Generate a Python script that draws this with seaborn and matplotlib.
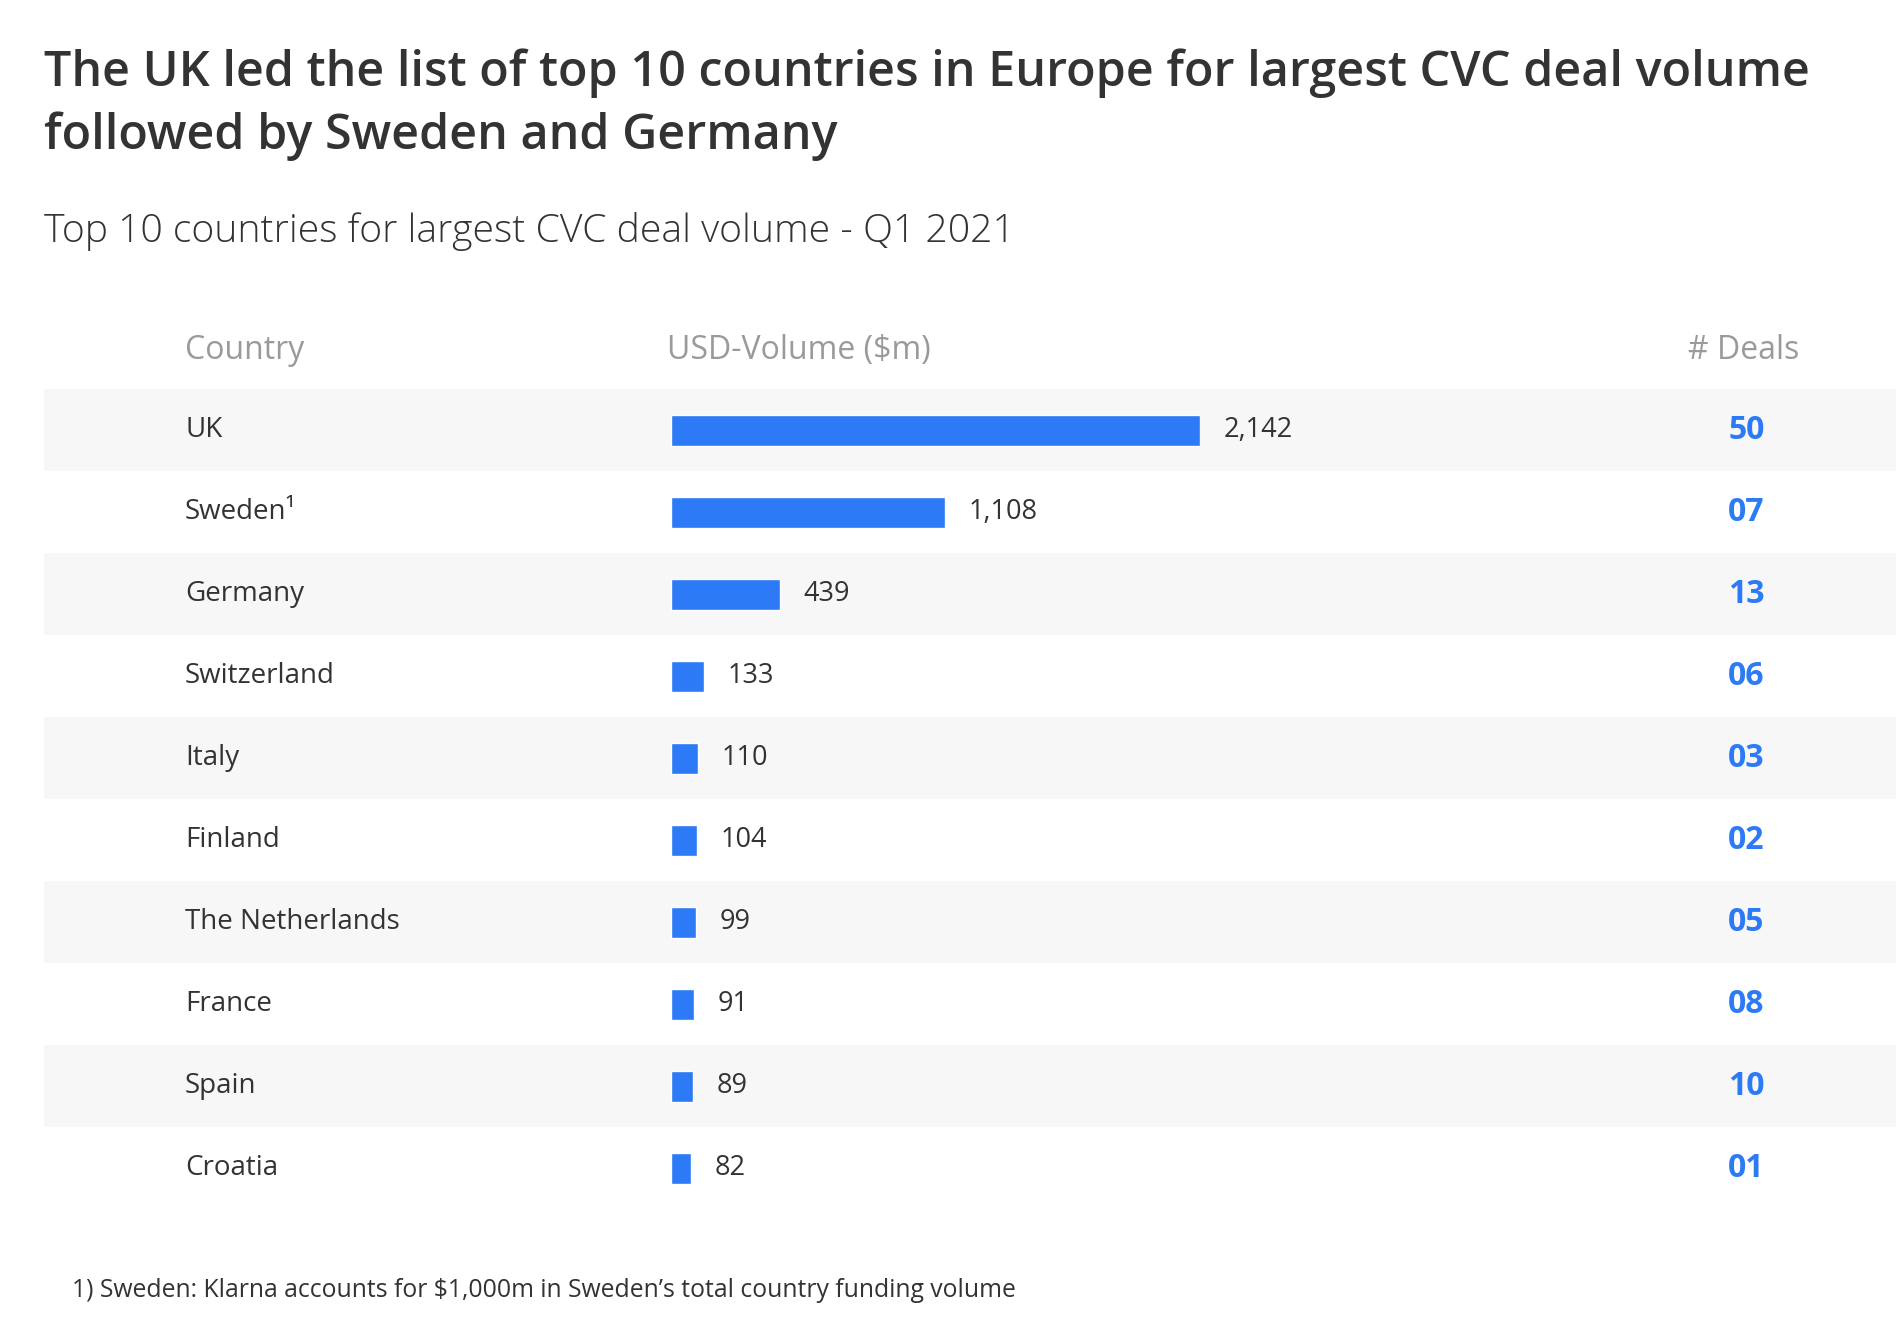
import matplotlib
matplotlib.use("Agg")
import matplotlib.pyplot as plt
import matplotlib.transforms as mtransforms
import seaborn as sns
import pandas as pd

# ---- data ----
countries = ["UK", "Sweden\u00b9", "Germany", "Switzerland", "Italy", "Finland",
             "The Netherlands", "France", "Spain", "Croatia"]
volume_musd = [2142, 1108, 439, 133, 110, 104, 99, 91, 89, 82]
deals = [50, 7, 13, 6, 3, 2, 5, 8, 10, 1]

title_lines = ["The UK led the list of top 10 countries in Europe for largest CVC deal volume",
               "followed by Sweden and Germany"]
subtitle = "Top 10 countries for largest CVC deal volume - Q1 2021"
headers = ["Country", "USD-Volume ($m)", "# Deals"]
footnote = "1) Sweden: Klarna accounts for $1,000m in Sweden\u2019s total country funding volume"

df = pd.DataFrame({"country": countries, "volume": volume_musd, "deals": deals})

# ---- style ----
sns.set_style("white")
plt.rcParams["font.family"] = ["Open Sans", "DejaVu Sans"]

BLUE = "#2C7AF6"
DARK = "#333333"
GREY = "#9A9A9A"
BAND = "#F7F7F7"

fig = plt.figure(figsize=(18.96, 13.22), dpi=100)
fig.patch.set_facecolor("white")

# titles
fig.text(0.023, 0.935, title_lines[0], fontsize=34.9, fontweight="semibold", color=DARK, va="baseline")
fig.text(0.023, 0.887, title_lines[1], fontsize=34.9, fontweight="semibold", color=DARK, va="baseline")
fig.text(0.023, 0.817, subtitle, fontsize=28.2, fontweight="light", color=DARK, va="baseline")

# table area
tbl_bottom, tbl_h = 0.0853, 0.6202
n = len(countries)

axbg = fig.add_axes([0.023, tbl_bottom, 0.977, tbl_h])
axbg.set_xlim(0, 1)
axbg.set_ylim(n - 0.5, -0.5)
for i in range(n):
    if i % 2 == 0:
        axbg.axhspan(i - 0.5, i + 0.5, color=BAND, lw=0)
axbg.axis("off")

axb = fig.add_axes([0.354, tbl_bottom, 0.279, tbl_h])
axb.patch.set_alpha(0)
sns.barplot(data=df, x="volume", y="country", orient="h", color=BLUE,
            width=0.38, saturation=1, ax=axb)
axb.set_xlim(0, max(volume_musd))
axb.set_ylim(n - 0.5, -0.5)
axb.axis("off")

blend = mtransforms.blended_transform_factory(fig.transFigure, axb.transData)
for i, (c, v, d) in enumerate(zip(countries, volume_musd, deals)):
    axb.text(0.0976, i, c, transform=blend, fontsize=20, color=DARK, va="center", ha="left")
    axb.annotate(f"{v:,}", (v, i), xytext=(17, 0), textcoords="offset points",
                 fontsize=19.5, color=DARK, va="center", ha="left", annotation_clip=False)
    axb.text(0.921, i, f"{d:02d}", transform=blend, fontsize=23, fontweight="bold",
             color=BLUE, va="center", ha="center")

# headers
hy = 0.735
fig.text(0.0976, hy, headers[0], fontsize=23, color=GREY, va="center", ha="left")
fig.text(0.352, hy, headers[1], fontsize=23, color=GREY, va="center", ha="left")
fig.text(0.949, hy, headers[2], fontsize=23, color=GREY, va="center", ha="right")

# footnote
fig.text(0.038, 0.024, footnote, fontsize=17.8, color=DARK, va="center", ha="left")

fig.savefig("out.png", dpi=100, facecolor="white")
